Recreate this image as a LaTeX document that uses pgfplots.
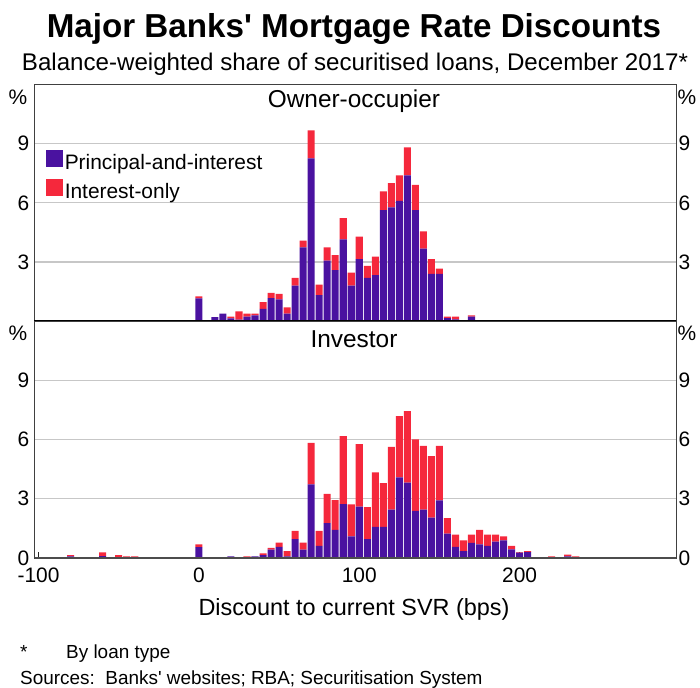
\documentclass[border=0pt]{standalone}
\usepackage{fontspec}
\setmainfont{Liberation Sans}[Ligatures=TeXOff]
\usepackage{pgfplots}
\usepackage{pgfplotstable}
\pgfplotsset{compat=1.18}
\definecolor{picol}{RGB}{74,18,160}
\definecolor{iocol}{RGB}{245,40,60}

\pgfplotstableread{
x pi io
0 1.15 0.10
10 0.20 0
15 0.37 0
20 0.13 0.09
25 0.07 0.42
30 0.22 0.15
35 0.29 0.08
40 0.62 0.34
45 1.16 0.27
50 1.10 0.28
55 0.37 0.32
60 1.79 0.40
65 3.74 0.34
70 8.26 1.42
75 1.32 0.53
80 3.07 0.67
85 2.58 0.76
90 4.15 1.08
95 1.79 0.66
100 3.14 1.14
105 2.19 0.61
110 2.33 0.94
115 5.63 0.95
120 5.77 1.23
125 6.10 1.30
130 7.40 1.42
135 5.63 1.28
140 3.68 0.87
145 2.39 0.75
150 2.39 0.27
155 0.15 0.07
160 0.08 0.14
170 0.22 0.07
}\owner

\pgfplotstableread{
x pi io
-80 0.08 0.07
-60 0.10 0.19
-50 0 0.15
-45 0 0.08
-40 0 0.08
0 0.55 0.14
20 0.08 0
30 0.03 0.05
35 0.08 0
40 0.15 0.09
45 0.42 0.09
50 0.56 0.22
55 0.08 0.27
60 0.96 0.41
65 0.42 0.36
70 3.73 2.10
75 0.62 0.75
80 1.77 1.48
85 1.43 1.50
90 2.73 3.44
95 1.10 1.62
100 2.60 3.17
105 0.96 1.62
110 1.57 2.76
115 1.57 2.22
120 2.45 3.18
125 4.08 3.10
130 3.81 3.63
135 2.38 3.62
140 2.45 3.23
145 2.04 3.12
150 2.92 2.76
155 1.23 0.79
160 0.56 0.62
165 0.35 0.54
170 0.76 0.42
175 0.69 0.74
180 0.62 0.56
185 0.83 0.35
190 0.89 0.21
195 0.44 0.18
200 0.27 0.03
205 0.30 0.05
220 0 0.08
230 0.08 0.09
235 0 0.08
}\investor

\begin{document}
\begin{tikzpicture}[x=1bp,y=1bp]
\path[use as bounding box] (0bp,0bp) rectangle (700bp,688bp);
\pgfplotsset{
  base/.style={scale only axis, width=641.5bp, xmin=-102.5, xmax=297.5, ymin=0, ymax=12,
    ticklabel style={font=\fontsize{21}{21}\selectfont},
    /pgf/number format/assume math mode=true},
  panel/.style={base, ytick={3,6,9}, ymajorgrids,
    grid style={draw=black!22, line width=1.3bp},
    ytick style={draw=none},
    axis line style={draw=black!75, line width=0.9bp},
    ybar stacked, bar width=4.4,
    yticklabel style={inner sep=0pt, xshift=-5bp}},
  right/.style={base, axis x line=none, axis y line*=right,
    y axis line style={draw=none}, ytick style={draw=none},
    yticklabel style={inner sep=0pt, xshift=2.5bp}},
}
% top panel
\begin{axis}[panel, at={(34.5bp,367bp)}, anchor=south west, height=236.3bp, xtick=\empty,
  legend image code/.code={\fill[#1] (1bp,-4bp) rectangle (18bp,13bp);},
  legend style={at={(rel axis cs:0.018,0.724)}, anchor=north west, draw=none, fill=none,
    font=\fontsize{21}{21}\selectfont, inner sep=0pt, row sep=6bp,
    nodes={inner sep=1.5bp}, cells={anchor=west}},
  after end axis/.code={\draw[black, line width=2.4bp] (rel axis cs:0,0) -- (rel axis cs:1,0);}]
\addplot[fill=picol, draw=none] table[x=x,y=pi]{\owner};
\addplot[fill=iocol, draw=none] table[x=x,y=io]{\owner};
\legend{Principal-and-interest, Interest-only}
\end{axis}
\begin{axis}[right, at={(34.5bp,367bp)}, anchor=south west, height=236.3bp, ytick={3,6,9}]
\end{axis}
% bottom panel
\begin{axis}[panel, at={(34.5bp,130bp)}, anchor=south west, height=237bp, ytick={0,3,6,9},
  xtick={-100,0,100,200}, xticklabels={-100,0,100,200}, xtick pos=left,
  tick align=inside, major tick length=6bp, xtick style={draw=black!85, line width=1bp},
  xticklabel style={inner sep=0pt, yshift=-9.5bp},
  after end axis/.code={\draw[black!70, line width=1.8bp] (rel axis cs:0,0) -- (rel axis cs:1,0);}]
\addplot[fill=picol, draw=none] table[x=x,y=pi]{\investor};
\addplot[fill=iocol, draw=none] table[x=x,y=io]{\investor};
\end{axis}
\begin{axis}[right, at={(34.5bp,130bp)}, anchor=south west, height=237bp, ytick={0,3,6,9}]
\end{axis}
% texts
\node[anchor=base] at (354bp,650bp) {\fontsize{33.3}{33.3}\selectfont\bfseries Major Banks' Mortgage Rate Discounts};
\node[anchor=base] at (355bp,617bp) {\fontsize{24.2}{24.2}\selectfont Balance-weighted share of securitised loans, December 2017*};
\node[font=\fontsize{21}{21}\selectfont] at (18bp,591bp) {\%};
\node[font=\fontsize{21}{21}\selectfont] at (687bp,591bp) {\%};
\node[font=\fontsize{21}{21}\selectfont] at (18bp,355bp) {\%};
\node[font=\fontsize{21}{21}\selectfont] at (687bp,355bp) {\%};
\node[font=\fontsize{24.5}{24.5}\selectfont] at (354bp,587bp) {Owner-occupier};
\node[font=\fontsize{24.5}{24.5}\selectfont] at (354bp,349bp) {Investor};
\node[font=\fontsize{23.5}{23.5}\selectfont] at (354bp,79bp) {Discount to current SVR (bps)};
\node[anchor=base west, inner sep=0pt, font=\fontsize{19}{19}\selectfont] at (20bp,30bp) {*};
\node[anchor=base west, inner sep=0pt, font=\fontsize{19}{19}\selectfont] at (66bp,30bp) {By loan type};
\node[anchor=base west, inner sep=0pt, font=\fontsize{19}{19}\selectfont] at (20bp,4bp) {Sources:\ \ Banks' websites; RBA; Securitisation System};
\end{tikzpicture}
\end{document}
